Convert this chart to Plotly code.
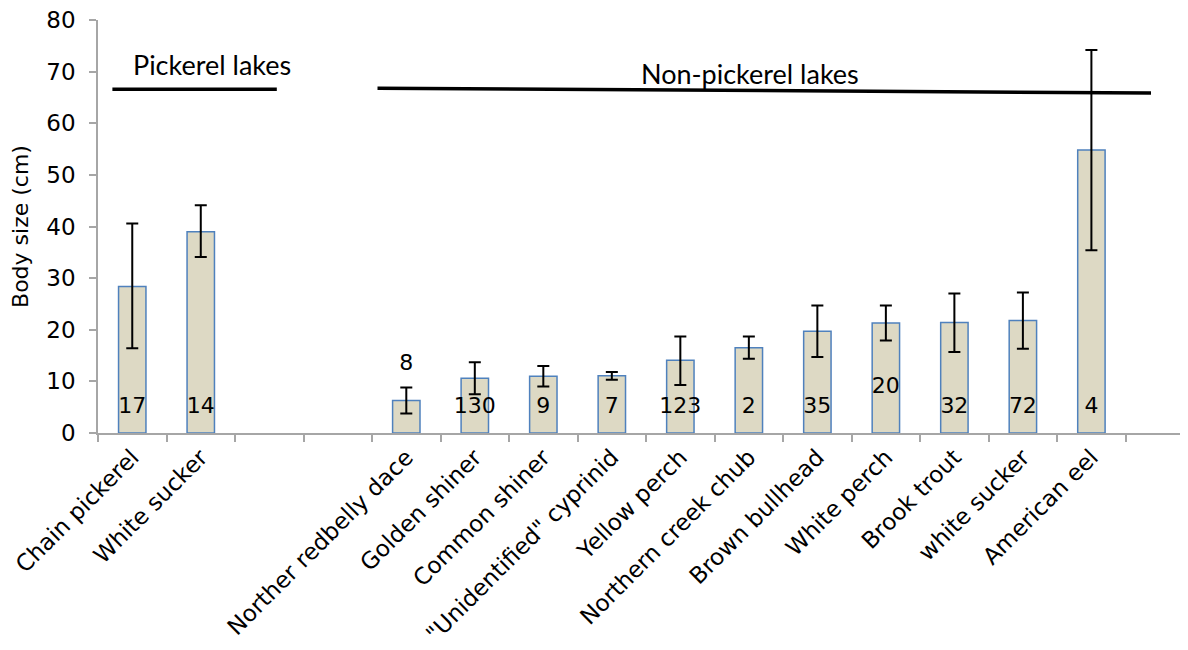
import plotly.graph_objects as go

categories = ["Chain pickerel", "White sucker", " ", "  ",
              "Norther redbelly dace", "Golden shiner", "Common shiner",
              "\"Unidentified\" cyprinid", "Yellow perch", "Northern creek chub",
              "Brown bullhead", "White perch", "Brook trout", "white sucker",
              "American eel"]
body_size = [28.4, 39.0, None, None, 6.3, 10.6, 11.0, 11.1, 14.1, 16.5,
             19.7, 21.3, 21.4, 21.8, 54.8]
err_plus = [12.2, 5.1, None, None, 2.5, 3.1, 2.0, 0.7, 4.6, 2.2,
            5.0, 3.4, 5.6, 5.4, 19.4]
err_minus = [12.0, 4.9, None, None, 2.5, 3.1, 2.0, 0.8, 4.8, 2.1,
             5.0, 3.4, 5.7, 5.5, 19.4]
count_cats = ["Chain pickerel", "White sucker", "Norther redbelly dace",
              "Golden shiner", "Common shiner", "\"Unidentified\" cyprinid",
              "Yellow perch", "Northern creek chub", "Brown bullhead",
              "White perch", "Brook trout", "white sucker", "American eel"]
counts = ["17", "14", "8", "130", "9", "7", "123", "2", "35", "20", "32", "72", "4"]
count_y = [4.9, 4.9, 13.2, 4.9, 4.9, 4.9, 4.9, 4.9, 4.9, 8.8, 4.9, 4.9, 4.9]
y_ticks = [0, 10, 20, 30, 40, 50, 60, 70, 80]

AX = "#A6A6A6"
FONT = "DejaVu Sans, sans-serif"
NOTE_FONT = "Lato, sans-serif"

fig = go.Figure()
fig.add_trace(go.Bar(
    x=categories, y=body_size, width=0.4,
    marker=dict(color="#DDD9C4", line=dict(color="#4F81BD", width=1.5)),
    error_y=dict(type="data", symmetric=False, array=err_plus,
                 arrayminus=err_minus, color="black", thickness=2, width=6),
    showlegend=False, hoverinfo="x+y"))
fig.add_trace(go.Scatter(
    x=count_cats, y=count_y, mode="text", text=counts,
    textfont=dict(family=FONT, size=22, color="black"),
    showlegend=False, hoverinfo="skip"))

# group lines
fig.add_shape(type="line", x0=-0.29, x1=2.11, y0=66.6, y1=66.6,
              xref="x", yref="y", line=dict(color="black", width=3.5))
fig.add_shape(type="line", x0=3.58, x1=14.87, y0=66.8, y1=65.85,
              xref="x", yref="y", line=dict(color="black", width=3.5))
fig.add_annotation(x=1.17, y=71.3, xref="x", yref="y", text="Pickerel lakes",
                   showarrow=False, font=dict(family=NOTE_FONT, size=27, color="black"))
fig.add_annotation(x=9.01, y=69.7, xref="x", yref="y", text="Non-pickerel lakes",
                   showarrow=False, font=dict(family=NOTE_FONT, size=27, color="black"))

fig.update_layout(
    width=1180, height=642,
    margin=dict(l=90, r=0, t=12, b=217),
    plot_bgcolor="white", paper_bgcolor="white",
    font=dict(family=FONT, size=22, color="black"),
    bargap=0.6,
)
fig.update_xaxes(
    type="category", categoryorder="array", categoryarray=categories,
    range=[-0.5, 15.41], tickson="boundaries", ticks="outside", ticklen=7,
    tickcolor=AX, tickwidth=1.5, showline=True, linecolor=AX, linewidth=1.5,
    tickangle=-45, showgrid=False, zeroline=False, ticklabeloverflow="allow",
    automargin=False,
    tickfont=dict(family=FONT, size=23, color="black"),
)
fig.update_yaxes(
    range=[0, 80], tickvals=y_ticks, ticks="outside", ticklen=7,
    tickcolor=AX, tickwidth=1.5, showline=True, linecolor=AX, linewidth=1.5,
    showgrid=False, zeroline=False, ticklabelstandoff=9, ticklabeloverflow="allow",
    automargin=False,
    tickfont=dict(family=FONT, size=23, color="black"),
    title=dict(text="Body size (cm)", font=dict(family=FONT, size=22, color="black"),
               standoff=14),
)
fig.write_html("out.html")
